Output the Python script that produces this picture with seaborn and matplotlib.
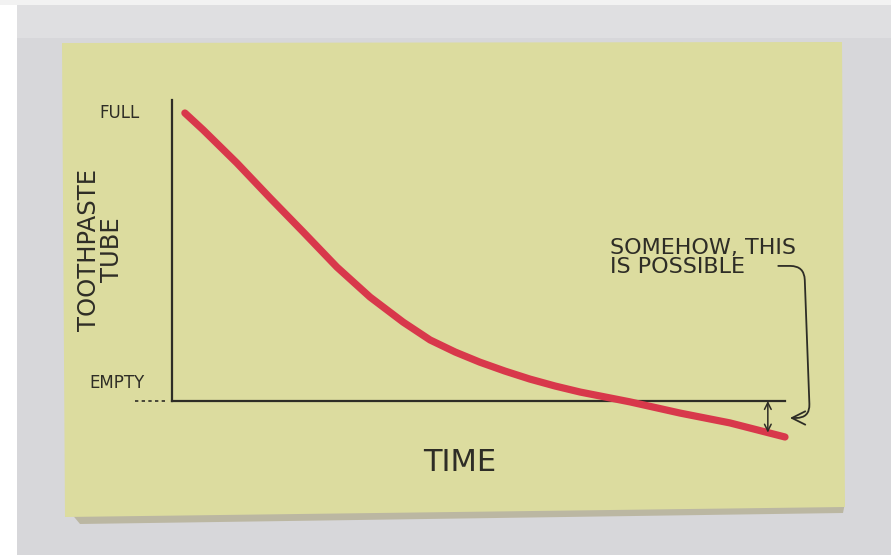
import matplotlib
matplotlib.use("Agg")
import matplotlib.pyplot as plt
from matplotlib.patches import Polygon, Rectangle
import numpy as np
import pandas as pd
import seaborn as sns

# ---- data ----
time = [2.1, 5.1, 10.6, 16.0, 21.4, 26.9, 32.3, 37.7, 42.1, 46.2, 50.2, 54.3, 58.4, 62.5,
        66.6, 74.7, 82.9, 91.0, 100.0]
toothpaste = [1.0, 0.941, 0.826, 0.705, 0.587, 0.465, 0.361, 0.274, 0.212, 0.170, 0.135, 0.104,
              0.076, 0.052, 0.031, -0.003, -0.042, -0.076, -0.125]
y_tick_labels = ["EMPTY", "FULL"]
x_label = "TIME"
y_label = "TOOTHPASTE\nTUBE"
note_text = "SOMEHOW, THIS\nIS POSSIBLE"

df = pd.DataFrame({"time": time, "toothpaste": toothpaste})

sns.set_theme(style="white")
plt.rcParams["font.family"] = ["DejaVu Sans"]

W, H = 891, 555
fig = plt.figure(figsize=(W / 100, H / 100), dpi=100)
fig.patch.set_facecolor("#d7d7da")

def fx(px):
    return px / W

def fy(py):
    return 1 - py / H

# white strips at left/top (photo border)
fig.patches.append(Rectangle((0, 0), fx(17), 1, transform=fig.transFigure, facecolor="white", edgecolor="none", zorder=0))
fig.patches.append(Rectangle((0, fy(5)), 1, 1 - fy(5), transform=fig.transFigure, facecolor="#f2f2f2", edgecolor="none", zorder=0))
fig.patches.append(Rectangle((fx(17), fy(38)), 1, fy(5) - fy(38), transform=fig.transFigure, facecolor="#dfdfe1", edgecolor="none", zorder=0))

# shadow of the sticky note
shadow = Polygon([(fx(70), fy(512)), (fx(845), fy(503)), (fx(843), fy(513)), (fx(80), fy(524))],
                 closed=True, transform=fig.transFigure, facecolor="#b5af95", edgecolor="none", zorder=1, alpha=0.8)
fig.patches.append(shadow)
# sticky note
note = Polygon([(fx(62), fy(43)), (fx(842), fy(42)), (fx(845), fy(507)), (fx(65), fy(517))],
               closed=True, transform=fig.transFigure, facecolor="#dcdc9f", edgecolor="none", zorder=2)
fig.patches.append(note)

# main axes: x 0..100 -> px 172..785 ; y 0..ymax -> px 401..100
x0, x1 = 172, 785
ytop_px, y0_px = 100, 401
ymax = (y0_px - ytop_px) / 288
ax = fig.add_axes([fx(x0), fy(y0_px), fx(x1) - fx(x0), fy(ytop_px) - fy(y0_px)])
ax.set_facecolor("none")
ax.set_zorder(5)
ax.set_xlim(0, 100)
ax.set_ylim(0, ymax)

ink = "#2e2d26"
red = "#d8384b"

sns.lineplot(data=df, x="time", y="toothpaste", ax=ax, color=red, linewidth=5.2,
             solid_capstyle="round", solid_joinstyle="round", clip_on=False, zorder=3)

for s in ["top", "right"]:
    ax.spines[s].set_visible(False)
ax.spines["left"].set_color(ink)
ax.spines["bottom"].set_color(ink)
ax.spines["left"].set_linewidth(1.6)
ax.spines["bottom"].set_linewidth(1.6)
ax.set_xticks([])
ax.set_yticks([])
ax.set_xlabel("")
ax.set_ylabel("")

# dashes left of origin
ax.plot([-6.0, -0.6], [0, 0], color=ink, linewidth=1.2, linestyle=(0, (2, 2)), clip_on=False)

# axis labels
ax.text(-8.5, 1.0, y_tick_labels[1], ha="center", va="center", fontsize=12, color=ink, clip_on=False)
ax.text(-9.0, 0.0625, y_tick_labels[0], ha="center", va="center", fontsize=12, color=ink, clip_on=False)
ax.text(-11.6, 0.524, y_label, rotation=90, ha="center", va="center", fontsize=17.5,
        color=ink, linespacing=0.95, multialignment="center", clip_on=False)
ax.text(47.0, -0.212, x_label, ha="center", va="center", fontsize=22, color=ink, clip_on=False)

# annotation text
ax.text(71.5, 0.497, note_text, ha="left", va="center", fontsize=16, color=ink,
        linespacing=0.95, clip_on=False)

# connector arrow from text to the gap
ax.annotate("", xy=(100.8, -0.059), xytext=(98.9, 0.469), annotation_clip=False,
            arrowprops=dict(arrowstyle="->,head_length=0.8,head_width=0.4", color=ink, linewidth=1.3,
                            connectionstyle="arc,angleA=0,angleB=0,armA=26,armB=20,rad=14",
                            shrinkA=0, shrinkB=0))

# double arrow showing negative amount
xg = 97.2
yg = float(np.interp(xg, time, toothpaste))
ax.annotate("", xy=(xg, yg), xytext=(xg, 0), annotation_clip=False,
            arrowprops=dict(arrowstyle="<->,head_length=0.4,head_width=0.2", color=ink, linewidth=1.1,
                            shrinkA=0, shrinkB=0))

fig.savefig("out.png", dpi=100, facecolor=fig.get_facecolor())
